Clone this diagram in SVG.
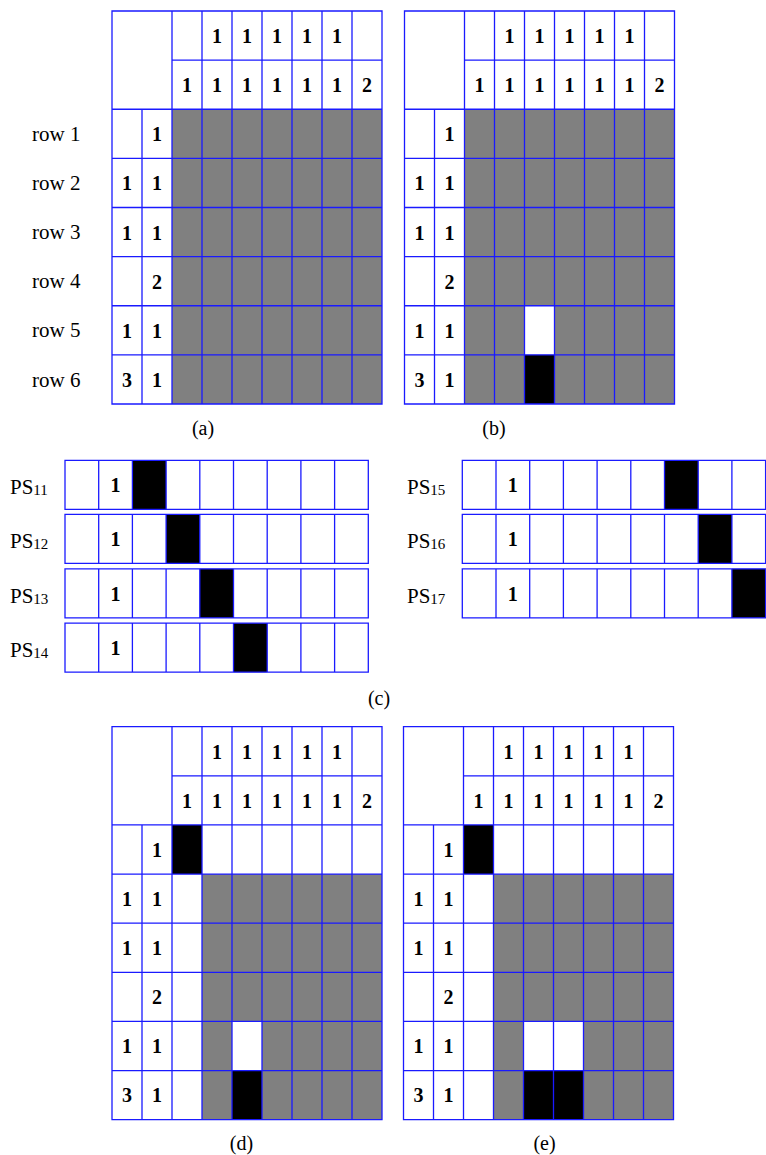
<svg xmlns="http://www.w3.org/2000/svg" xmlns:xlink="http://www.w3.org/1999/xlink" width="766" height="1155" viewBox="0 0 766 1155">
<style>
.ln{fill:none;stroke:#1a1aff;stroke-width:1.3}
.g{fill:#808080}
.k{fill:#000}
.w{fill:#fff}
.d{font-family:"Liberation Serif","Times New Roman",serif;font-weight:bold;font-size:20px;text-anchor:middle;fill:#000}
.lb{font-family:"Liberation Serif","Times New Roman",serif;font-size:21px;fill:#000}
.cap{font-family:"Liberation Serif","Times New Roman",serif;font-size:20px;text-anchor:middle;fill:#000}
</style>
<defs>
<path id="gridlines" class="ln" d="M0,0H270V393H0Z M60,49.125H270 M0,98.25H270 M0,147.375H270 M0,196.5H270 M0,245.625H270 M0,294.75H270 M0,343.875H270 M30,98.25V393 M60,0V393 M90,0V393 M120,0V393 M150,0V393 M180,0V393 M210,0V393 M240,0V393"/>
<g id="clues">
<text class="d" x="105" y="32">1</text><text class="d" x="135" y="32">1</text><text class="d" x="165" y="32">1</text><text class="d" x="195" y="32">1</text><text class="d" x="225" y="32">1</text>
<text class="d" x="75" y="81">1</text><text class="d" x="105" y="81">1</text><text class="d" x="135" y="81">1</text><text class="d" x="165" y="81">1</text><text class="d" x="195" y="81">1</text><text class="d" x="225" y="81">1</text><text class="d" x="255" y="81">2</text>
<text class="d" x="45" y="130">1</text>
<text class="d" x="15" y="179">1</text><text class="d" x="45" y="179">1</text>
<text class="d" x="15" y="228.5">1</text><text class="d" x="45" y="228.5">1</text>
<text class="d" x="45" y="277.5">2</text>
<text class="d" x="15" y="326.5">1</text><text class="d" x="45" y="326.5">1</text>
<text class="d" x="15" y="375.5">3</text><text class="d" x="45" y="375.5">1</text>
</g>
<path id="pslines" class="ln" d="M0,0H303.3V49H0Z M33.7,0V49 M67.4,0V49 M101.1,0V49 M134.8,0V49 M168.5,0V49 M202.2,0V49 M235.9,0V49 M269.6,0V49"/>
</defs>

<g id="grid-a" transform="translate(112,11)">
<rect class="g" x="60" y="98.25" width="210" height="294.75"/>
<use xlink:href="#gridlines"/>
<use xlink:href="#clues"/>
</g>
<g id="row-labels">
<text class="lb" x="32" y="141">row 1</text>
<text class="lb" x="32" y="190">row 2</text>
<text class="lb" x="32" y="239">row 3</text>
<text class="lb" x="32" y="288">row 4</text>
<text class="lb" x="32" y="337">row 5</text>
<text class="lb" x="32" y="386.5">row 6</text>
</g>

<g id="grid-b" transform="translate(404.5,11)">
<rect class="g" x="60" y="98.25" width="210" height="294.75"/>
<rect class="w" x="120" y="294.75" width="30" height="49.125"/>
<rect class="k" x="120" y="343.875" width="30" height="49.125"/>
<use xlink:href="#gridlines"/>
<use xlink:href="#clues"/>
</g>

<g id="ps11" transform="translate(65,460.3)">
<rect class="k" x="67.4" y="0" width="33.7" height="49"/>
<use xlink:href="#pslines"/>
<text class="d" x="50.5" y="32">1</text>
</g>
<g id="ps12" transform="translate(65,514.3)">
<rect class="k" x="101.1" y="0" width="33.7" height="49"/>
<use xlink:href="#pslines"/>
<text class="d" x="50.5" y="32">1</text>
</g>
<g id="ps13" transform="translate(65,568.8)">
<rect class="k" x="134.8" y="0" width="33.7" height="49"/>
<use xlink:href="#pslines"/>
<text class="d" x="50.5" y="32">1</text>
</g>
<g id="ps14" transform="translate(65,623.2)">
<rect class="k" x="168.5" y="0" width="33.7" height="49"/>
<use xlink:href="#pslines"/>
<text class="d" x="50.5" y="32">1</text>
</g>
<g id="ps15" transform="translate(462.3,460.3)">
<rect class="k" x="202.2" y="0" width="33.7" height="49"/>
<use xlink:href="#pslines"/>
<text class="d" x="50.5" y="32">1</text>
</g>
<g id="ps16" transform="translate(462.3,514.3)">
<rect class="k" x="235.9" y="0" width="33.7" height="49"/>
<use xlink:href="#pslines"/>
<text class="d" x="50.5" y="32">1</text>
</g>
<g id="ps17" transform="translate(462.3,568.8)">
<rect class="k" x="269.6" y="0" width="33.7" height="49"/>
<use xlink:href="#pslines"/>
<text class="d" x="50.5" y="32">1</text>
</g>
<g id="ps-labels">
<text class="lb" x="10" y="494" font-size="22">PS<tspan font-size="15" dy="1">11</tspan></text>
<text class="lb" x="10" y="548" font-size="22">PS<tspan font-size="15" dy="1">12</tspan></text>
<text class="lb" x="10" y="602.5" font-size="22">PS<tspan font-size="15" dy="1">13</tspan></text>
<text class="lb" x="10" y="657" font-size="22">PS<tspan font-size="15" dy="1">14</tspan></text>
<text class="lb" x="407" y="494" font-size="22">PS<tspan font-size="15" dy="1">15</tspan></text>
<text class="lb" x="407" y="548" font-size="22">PS<tspan font-size="15" dy="1">16</tspan></text>
<text class="lb" x="407" y="602.5" font-size="22">PS<tspan font-size="15" dy="1">17</tspan></text>
</g>

<g id="grid-d" transform="translate(112,726.7)">
<rect class="g" x="90" y="147.375" width="180" height="245.625"/>
<rect class="k" x="60" y="98.25" width="30" height="49.125"/>
<rect class="w" x="120" y="294.75" width="30" height="49.125"/>
<rect class="k" x="120" y="343.875" width="30" height="49.125"/>
<use xlink:href="#gridlines"/>
<use xlink:href="#clues"/>
</g>

<g id="grid-e" transform="translate(403.5,726.7)">
<rect class="g" x="90" y="147.375" width="180" height="245.625"/>
<rect class="k" x="60" y="98.25" width="30" height="49.125"/>
<rect class="w" x="120" y="294.75" width="60" height="49.125"/>
<rect class="k" x="120" y="343.875" width="60" height="49.125"/>
<use xlink:href="#gridlines"/>
<use xlink:href="#clues"/>
</g>

<g id="captions">
<text class="cap" x="203" y="435">(a)</text>
<text class="cap" x="494" y="435">(b)</text>
<text class="cap" x="379" y="705">(c)</text>
<text class="cap" x="241.5" y="1150">(d)</text>
<text class="cap" x="544.5" y="1150">(e)</text>
</g>
</svg>
